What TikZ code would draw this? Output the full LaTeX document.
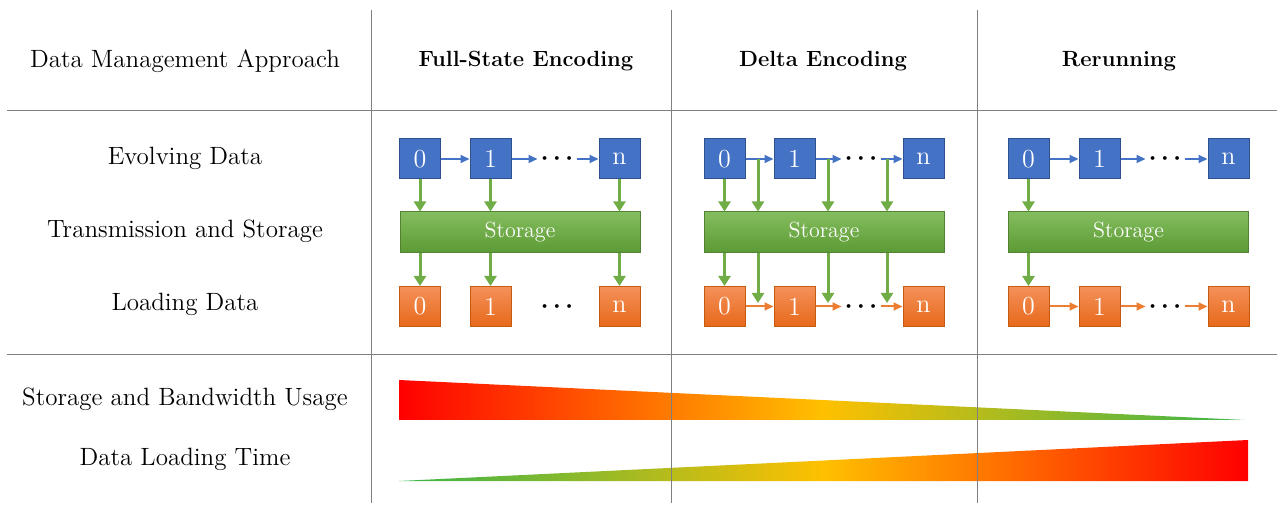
\documentclass[tikz,border=0pt]{standalone}
\usetikzlibrary{arrows.meta,calc}
\definecolor{blueF}{HTML}{4472C4}
\definecolor{blueD}{HTML}{2F528F}
\definecolor{grnA}{HTML}{70AD47}
\definecolor{grnT}{HTML}{84BD5E}
\definecolor{grnB}{HTML}{5B9A34}
\definecolor{grnD}{HTML}{548235}
\definecolor{orT}{HTML}{F4915A}
\definecolor{orB}{HTML}{E7681A}
\definecolor{orD}{HTML}{C55A11}
\definecolor{orA}{HTML}{ED7D31}
\definecolor{gy}{HTML}{808080}
\definecolor{yel}{HTML}{FFC000}
\definecolor{grnG}{HTML}{38B44A}
\begin{document}
\begin{tikzpicture}[x=0.5pt,y=-0.5pt,
  basebox/.style={minimum width=20.5pt, minimum height=20pt, inner sep=0pt, text=white, font=\fontsize{13}{15}\selectfont, line width=0.5pt},
  bbox/.style={basebox, draw=blueD, fill=blueF},
  obox/.style={basebox, draw=orD, top color=orT, bottom color=orB},
  stor/.style={draw=grnD, line width=0.5pt, top color=grnT, bottom color=grnB, minimum width=120pt, minimum height=20.5pt, text=white, font=\fontsize{11}{13}\selectfont, inner sep=0pt},
  dotsn/.style={inner sep=1.5pt, font=\fontsize{12}{14}\selectfont\boldmath},
  barr/.style={draw=blueF, line width=1pt, -{Triangle[length=4.5pt,width=4pt]}},
  oarr/.style={draw=orA, line width=1pt, -{Triangle[length=4.5pt,width=4pt]}},
  garr/.style={draw=grnA, line width=1.5pt, -{Triangle[length=5pt,width=6pt]}},
  gridl/.style={draw=gy, line width=0.5pt},
  lbl/.style={font=\fontsize{12.5}{14}\selectfont},
  hdr/.style={font=\fontsize{11}{13}\selectfont\bfseries}
]
\useasboundingbox (0,0) rectangle (1286,513);

% headers and row labels
\node[lbl] (h0) at (185,61) {Data Management Approach};
\node[hdr] (h1) at (526,61) {Full-State Encoding};
\node[hdr] (h2) at (823,61) {Delta Encoding};
\node[hdr] (h3) at (1119,61) {Rerunning};
\node[lbl] (r1) at (185,158) {Evolving Data};
\node[lbl] (r2) at (185,231) {Transmission and Storage};
\node[lbl] (r3) at (185,304) {Loading Data};
\node[lbl] (r4) at (185,399) {Storage and Bandwidth Usage};
\node[lbl] (r5) at (185,459) {Data Loading Time};

% ---- column 1: full-state
\node[bbox] (a0) at (420,159) {0};
\node[bbox] (a1) at (490.5,159) {1};
\node[dotsn] (ad) at (557,159) {$\cdots$};
\node[bbox] (an) at (619.5,159) {n};
\node[stor] (as) at (520,232.5) {Storage};
\node[obox] (ao0) at (420,306.5) {0};
\node[obox] (ao1) at (490.5,306.5) {1};
\node[dotsn] (aod) at (557,306.5) {$\cdots$};
\node[obox] (aon) at (619.5,306.5) {n};
\draw[barr] (a0) -- (a1);
\draw[barr] (a1) -- (ad);
\draw[barr] (ad) -- (an);
\foreach \t/\b in {a0/ao0,a1/ao1,an/aon}{
  \draw[garr] (\t.south) -- (\t.south |- as.north);
  \draw[garr] (as.south -| \b.north) -- (\b.north);
}

% ---- column 2: delta
\node[bbox] (b0) at (724.5,159) {0};
\node[bbox] (b1) at (794.5,159) {1};
\node[dotsn] (bd) at (861,159) {$\cdots$};
\node[bbox] (bn) at (923.5,159) {n};
\node[stor] (bs) at (824,232.5) {Storage};
\node[obox] (bo0) at (724.5,306.5) {0};
\node[obox] (bo1) at (794.5,306.5) {1};
\node[dotsn] (bod) at (861,306.5) {$\cdots$};
\node[obox] (bon) at (923.5,306.5) {n};
\draw[barr] (b0) -- (b1);
\draw[barr] (b1) -- (bd);
\draw[barr] (bd) -- (bn);
\draw[oarr] (bo0) -- (bo1);
\draw[oarr] (bo1) -- (bod);
\draw[oarr] (bod) -- (bon);
\draw[garr] (b0.south) -- (b0.south |- bs.north);
\draw[garr] (bs.south -| bo0.north) -- (bo0.north);
\coordinate (bu1) at (758,159);
\coordinate (bu2) at (828,159);
\coordinate (bu3) at (887,159);
\coordinate (bl1) at (758,303);
\coordinate (bl2) at (828,303);
\coordinate (bl3) at (887,303);
\foreach \u/\l in {bu1/bl1,bu2/bl2,bu3/bl3}{
  \draw[garr] (\u) -- (\u |- bs.north);
  \draw[garr] (bs.south -| \l) -- (\l);
}

% ---- column 3: rerunning
\node[bbox] (c0) at (1028.5,159) {0};
\node[bbox] (c1) at (1099.5,159) {1};
\node[dotsn] (cd) at (1165,159) {$\cdots$};
\node[bbox] (cn) at (1228.5,159) {n};
\node[stor] (cs) at (1128.5,232.5) {Storage};
\node[obox] (co0) at (1028.5,306.5) {0};
\node[obox] (co1) at (1099.5,306.5) {1};
\node[dotsn] (cod) at (1165,306.5) {$\cdots$};
\node[obox] (con) at (1228.5,306.5) {n};
\draw[barr] (c0) -- (c1);
\draw[barr] (c1) -- (cd);
\draw[barr] (cd) -- (cn);
\draw[oarr] (co0) -- (co1);
\draw[oarr] (co1) -- (cod);
\draw[oarr] (cod) -- (con);
\draw[garr] (c0.south) -- (c0.south |- cs.north);
\draw[garr] (cs.south -| co0.north) -- (co0.north);

% ---- gradient wedges
\shade[left color=red, right color=grnG, middle color=yel] (399,380) -- (1245,420) -- (399,420) -- cycle;
\shade[left color=grnG, right color=red, middle color=yel] (399,481) -- (1248,440) -- (1248,481) -- cycle;

% ---- grid lines
\draw[gridl] (371,10) -- (371,503);
\draw[gridl] (671,10) -- (671,503);
\draw[gridl] (977,10) -- (977,503);
\draw[gridl] (7,111) -- (1277,111);
\draw[gridl] (7,355) -- (1277,355);
\end{tikzpicture}
\end{document}
